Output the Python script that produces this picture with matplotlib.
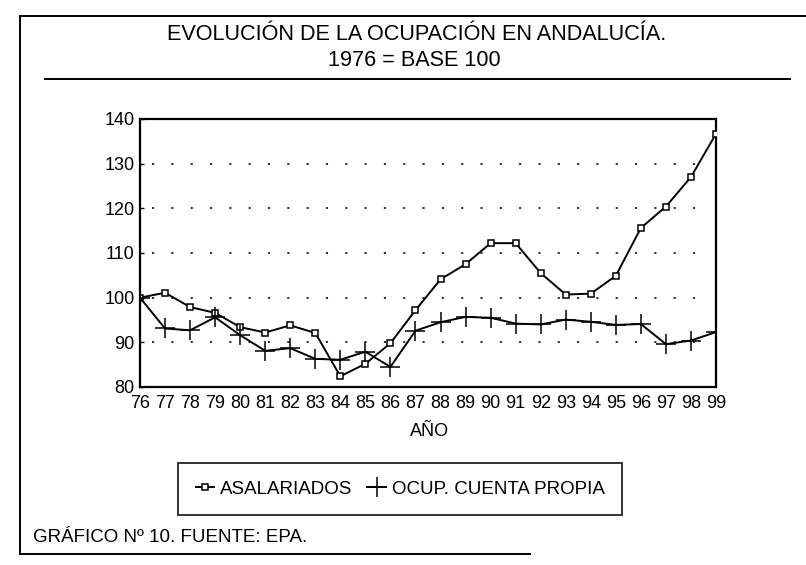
import matplotlib
matplotlib.use("Agg")
import matplotlib.pyplot as plt
from matplotlib.lines import Line2D

# ---- data ----
years = ["76", "77", "78", "79", "80", "81", "82", "83", "84", "85", "86", "87",
         "88", "89", "90", "91", "92", "93", "94", "95", "96", "97", "98", "99"]
asalariados = [100, 101.1, 97.9, 96.6, 93.4, 92.2, 93.8, 92.1, 82.4, 85.2, 89.8, 97.2,
               104.1, 107.5, 112.2, 112.2, 105.5, 100.7, 100.9, 104.9, 115.6, 120.4, 127.0, 136.7]
cuenta_propia = [100, 93.1, 92.7, 95.6, 91.6, 88.1, 88.7, 86.3, 86.1, 87.9, 84.5, 92.6,
                 94.5, 95.7, 95.5, 94.2, 94.0, 95.1, 94.6, 93.9, 94.1, 89.6, 90.4, 92.3]
yticks = [80, 90, 100, 110, 120, 130, 140]
gridlevels = [90, 100, 110, 120, 130]

title1 = "EVOLUCIÓN DE LA OCUPACIÓN EN ANDALUCÍA."
title2 = "1976 = BASE 100"
xlabel = "AÑO"
labels = ["ASALARIADOS", "OCUP. CUENTA PROPIA"]
source = "GRÁFICO Nº 10. FUENTE: EPA."

plt.rcParams['font.family'] = ['Liberation Sans', 'DejaVu Sans']

W, H = 806, 565
fig = plt.figure(figsize=(W / 100, H / 100), dpi=100)
fig.patch.set_facecolor('white')

def fx(px):
    return px / W

def fy(py):
    return 1 - py / H

# outer frame lines
fig.add_artist(Line2D([fx(20), fx(806)], [fy(16), fy(16)], color='black', lw=1.4))
fig.add_artist(Line2D([fx(20), fx(20)], [fy(16), fy(554)], color='black', lw=1.4))
fig.add_artist(Line2D([fx(20), fx(530)], [fy(554), fy(554)], color='black', lw=1.4))
fig.add_artist(Line2D([fx(45), fx(790)], [fy(79), fy(79)], color='black', lw=1.4))

fig.text(fx(417), fy(35), title1, ha='center', va='center', fontsize=15.6)
fig.text(fx(414), fy(61), title2, ha='center', va='center', fontsize=15.6)

ax = fig.add_axes([fx(140), fy(387), fx(576), 268 / H])
x = list(range(len(years)))

for g in gridlevels:
    ax.axhline(g, xmin=0.02, xmax=0.97, color='#222222', lw=1.3,
               linestyle=(0, (1.2, 9.5)), zorder=1)

ax.plot(x, asalariados, color='black', lw=1.4, marker='s', markersize=4,
        markerfacecolor='white', markeredgecolor='black', markeredgewidth=1.1,
        label=labels[0], zorder=3)
ax.plot(x, cuenta_propia, color='black', lw=1.4, marker='+', markersize=14,
        markeredgewidth=1.1, label=labels[1], zorder=3)

ax.set_xlim(0, len(years) - 1)
ax.set_ylim(80, 140)
ax.set_xticks(x)
ax.set_xticklabels(years, fontsize=13)
ax.set_yticks(yticks)
ax.set_yticklabels([str(v) for v in yticks], fontsize=13)
ax.tick_params(axis='x', length=0, pad=6)
ax.tick_params(axis='y', length=3, width=1, direction='in', pad=4)
for s in ax.spines.values():
    s.set_linewidth(1.6)

fig.text(fx(430), fy(431), xlabel, ha='center', va='center', fontsize=13)

leg = ax.legend(loc='center', bbox_to_anchor=(fx(400), fy(489)),
                bbox_transform=fig.transFigure, ncol=2, fontsize=13.5,
                frameon=True, fancybox=False, edgecolor='black',
                handlelength=1.0, handletextpad=0.3, columnspacing=0.8,
                borderpad=0.95, borderaxespad=0)
leg.get_frame().set_linewidth(1.4)

fig.text(fx(33), fy(538), source, ha='left', va='center', fontsize=13.5)

fig.savefig("out.png", dpi=100, facecolor='white')
